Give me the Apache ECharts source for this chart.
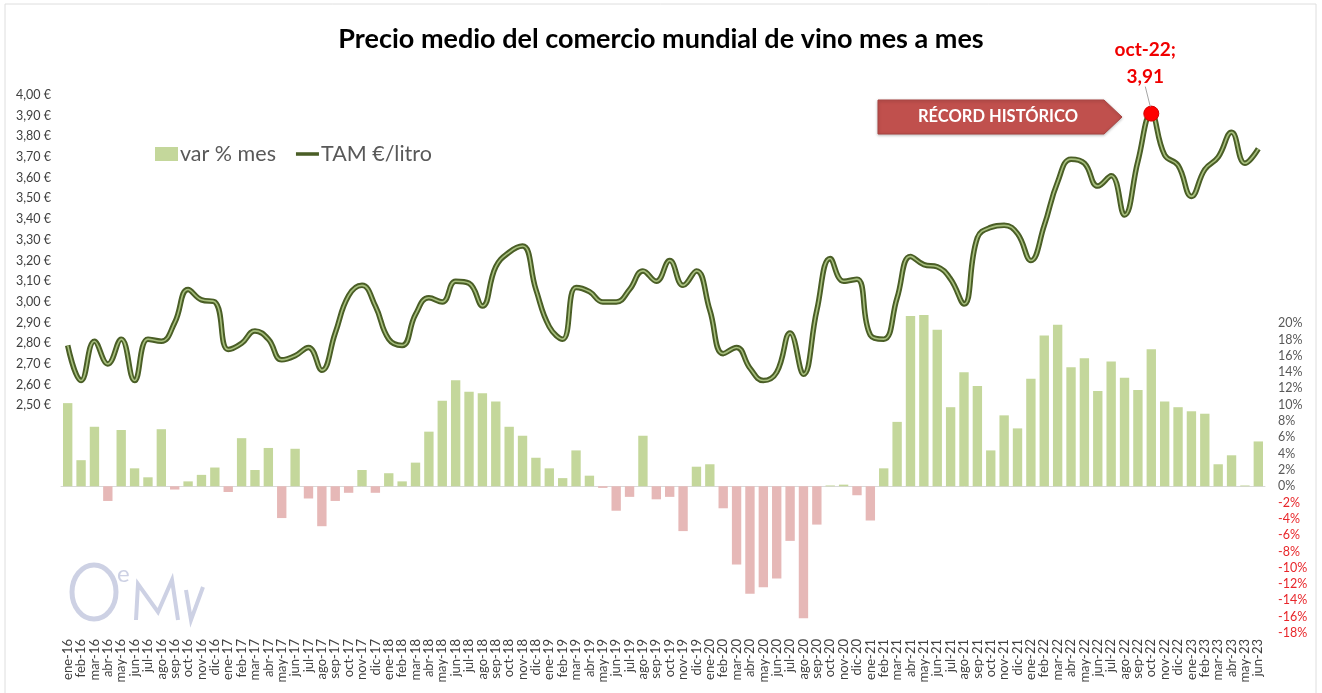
<!doctype html>
<html>
<head>
<meta charset="utf-8">
<script src="https://cdn.jsdelivr.net/npm/echarts@6/dist/echarts.min.js"></script>
<style>
	html, body { margin: 0; padding: 0; background: #fff; }
	#chart { width: 1322px; height: 693px; }
</style>
</head>
<body>
<div id="chart"></div>
<script>
	var meses = ['ene', 'feb', 'mar', 'abr', 'may', 'jun', 'jul', 'ago', 'sep', 'oct', 'nov', 'dic'];
	var anios = ['16', '17', '18', '19', '20', '21', '22', '23'];
	var categorias = [];
	for (var a = 0; a < anios.length; a++) {
		for (var m = 0; m < 12; m++) {
			if (anios[a] == '23' && m > 5) break;
			categorias.push(meses[m] + '-' + anios[a]);
		}
	}

	// TAM €/litro
	var tam = [
		2.79, 2.62, 2.81, 2.70, 2.82, 2.62, 2.82, 2.81, 2.90, 3.06, 3.01, 3.00,
		2.77, 2.80, 2.86, 2.82, 2.72, 2.74, 2.78, 2.67, 2.85, 3.03, 3.08, 2.98,
		2.82, 2.79, 2.94, 3.02, 3.00, 3.10, 3.09, 2.98, 3.17, 3.24, 3.27, 3.06,
		2.88, 2.82, 3.07, 3.05, 3.00, 3.00, 3.06, 3.15, 3.10, 3.20, 3.08, 3.15,
		2.96, 2.75, 2.78, 2.68, 2.62, 2.66, 2.85, 2.65, 2.96, 3.21, 3.10, 3.11,
		2.84, 2.82, 3.02, 3.22, 3.18, 3.17, 3.11, 2.99, 3.31, 3.36, 3.37, 3.33,
		3.20, 3.37, 3.58, 3.69, 3.67, 3.56, 3.61, 3.42, 3.68, 3.91, 3.71, 3.66,
		3.51, 3.64, 3.70, 3.82, 3.67, 3.74
	];

	// var % mes
	var varMes = [
		10.2, 3.2, 7.3, -1.8, 6.9, 2.2, 1.1, 7.0, -0.4, 0.6, 1.4, 2.3,
		-0.7, 5.9, 2.0, 4.7, -3.9, 4.6, -1.5, -4.9, -1.8, -0.8, 2.0, -0.8,
		1.6, 0.6, 2.9, 6.7, 10.5, 13.0, 11.6, 11.4, 10.4, 7.3, 6.2, 3.5,
		2.2, 1.0, 4.4, 1.3, -0.2, -3.0, -1.3, 6.2, -1.6, -1.3, -5.5, 2.4,
		2.7, -2.7, -9.6, -13.2, -12.4, -11.3, -6.7, -16.2, -4.7, 0.1, 0.2, -1.1,
		-4.2, 2.2, 7.9, 20.9, 21.0, 19.2, 9.7, 14.0, 12.3, 4.4, 8.7, 7.1,
		13.2, 18.5, 19.8, 14.6, 15.7, 11.7, 15.3, 13.3, 11.8, 16.8, 10.4, 9.7,
		9.2, 8.9, 2.7, 3.8, 0.1, 5.5
	];

	// ejes
	var ejeEuro = { min: 1.4, max: 4.0, paso: 0.1, primeraEtiqueta: 2.5 };
	var ejePct = { min: -18, max: 48, paso: 2, ultimaEtiqueta: 20 };
	var record = { mes: 'oct-22', valor: 3.91 };

	var verde = '#c4d79b', rosa = '#e6b8b7', oliva = '#4a5e26';
	var fuente = 'Lato, "Open Sans", sans-serif';
	var myChart = echarts.init(document.getElementById('chart'));

	option = {
		animation: false,
		backgroundColor: '#fff',
		textStyle: { fontFamily: fuente },
		title: {
			text: 'Precio medio del comercio mundial de vino mes a mes',
			left: 'center',
			top: 21,
			textStyle: { fontFamily: fuente, fontSize: 27, fontWeight: 'bold', color: '#000' }
		},
		legend: {
			left: 150,
			top: 138,
			itemWidth: 23,
			itemHeight: 14,
			itemGap: 20,
			textStyle: { fontFamily: fuente, fontSize: 21.5, color: '#595959', padding: [0, 0, 0, -3] },
			data: [
				{ name: 'var % mes', icon: 'rect', itemStyle: { color: verde } },
				{ name: 'TAM €/litro', icon: 'path://M0,0 L26,0 L26,4 L0,4 Z', itemStyle: { color: oliva } }
			]
		},
		grid: { left: 61, right: 57, top: 95, bottom: 60 },
		xAxis: [{
			type: 'category',
			data: categorias,
			axisTick: { show: false },
			axisLine: { lineStyle: { color: '#d9d9d9', width: 1 } },
			axisLabel: {
				interval: 0,
				rotate: 90,
				fontSize: 13,
				color: '#404040',
				margin: 6,
				fontFamily: fuente
			}
		}],
		yAxis: [{
			type: 'value',
			min: ejeEuro.min,
			max: ejeEuro.max,
			interval: ejeEuro.paso,
			splitLine: { show: false },
			axisLine: { show: false },
			axisTick: { show: false },
			axisLabel: {
				fontSize: 12.5,
				color: '#404040',
				margin: 10,
				fontFamily: fuente,
				formatter: function(value) {
					if (value < ejeEuro.primeraEtiqueta - 1e-6) return '';
					return value.toFixed(2).replace('.', ',') + ' €';
				}
			}
		}, {
			type: 'value',
			min: ejePct.min,
			max: ejePct.max,
			interval: ejePct.paso,
			splitLine: { show: false },
			axisLine: { show: false },
			axisTick: { show: false },
			axisLabel: {
				fontSize: 12.5,
				margin: 13,
				fontFamily: fuente,
				color: function(value) {
					return value < 0 ? '#e8262a' : '#595959';
				},
				formatter: function(value) {
					if (value > ejePct.ultimaEtiqueta) return '';
					return value + '%';
				}
			}
		}],
		series: [{
			name: 'var % mes',
			type: 'bar',
			yAxisIndex: 1,
			barCategoryGap: '30%',
			data: varMes,
			itemStyle: {
				color: function(params) {
					return params.value < 0 ? rosa : verde;
				}
			}
		}, {
			name: 'TAM €/litro',
			type: 'line',
			yAxisIndex: 0,
			data: tam,
			smooth: 0.45,
			symbol: 'none',
			lineStyle: { color: oliva, width: 5.5 },
			itemStyle: { color: oliva },
			z: 3
		}, {
			name: 'TAM interior',
			type: 'line',
			yAxisIndex: 0,
			data: tam,
			smooth: 0.45,
			symbol: 'none',
			lineStyle: { color: '#a8c07e', width: 1.6 },
			z: 4,
			markPoint: {
				symbol: 'circle',
				symbolSize: 15,
				itemStyle: { color: '#ff0000', borderColor: '#d00000', borderWidth: 1 },
				label: {
					show: true,
					position: 'top',
					distance: 15,
					offset: [-6, 0],
					formatter: record.mes + ';\n' + record.valor.toFixed(2).replace('.', ','),
					color: '#f00000',
					fontFamily: fuente,
					fontWeight: 'bold',
					fontSize: 19,
					lineHeight: 27
				},
				data: [{ coord: [record.mes, record.valor] }]
			}
		}]
	};
	myChart.setOption(option);

	// línea guía de la etiqueta, cartel y logo
	var p = myChart.convertToPixel({ xAxisIndex: 0, yAxisIndex: 0 }, [record.mes, record.valor]);
	myChart.setOption({
		graphic: [{
			type: 'rect',
			shape: { x: 5, y: 4, width: 1311, height: 700 },
			style: { fill: 'none', stroke: '#dedede', lineWidth: 1 },
			silent: true,
			z: -10
		}, {
			type: 'line',
			shape: { x1: p[0] - 6, y1: p[1] - 27, x2: p[0] - 1, y2: p[1] - 7 },
			style: { stroke: '#a6a6a6', lineWidth: 1 },
			z: 10
		}, {
			type: 'polygon',
			shape: { points: [[878, 100], [1104, 100], [1122, 117], [1104, 134], [878, 134]] },
			style: { fill: '#c0504d', stroke: '#a84442', lineWidth: 1, shadowBlur: 3, shadowColor: 'rgba(0,0,0,0.25)', shadowOffsetY: 1 },
			z: 10
		}, {
			type: 'text',
			x: 998,
			y: 117,
			style: {
				text: 'RÉCORD HISTÓRICO',
				fill: '#fff',
				font: 'bold 16.5px ' + fuente,
				align: 'center',
				verticalAlign: 'middle'
			},
			z: 11
		}, {
			type: 'ellipse',
			shape: { cx: 94, cy: 592, rx: 22, ry: 27 },
			style: { fill: 'none', stroke: '#cdd1e4', lineWidth: 5 },
			z: -5
		}, {
			type: 'text',
			x: 117,
			y: 562,
			style: { text: 'e', fill: '#cdd1e4', font: '24px ' + fuente },
			z: -5
		}, {
			type: 'polyline',
			shape: { points: [[136, 620], [138, 584], [158, 612], [172, 580], [178, 620]] },
			style: { fill: 'none', stroke: '#cdd1e4', lineWidth: 4 },
			z: -5
		}, {
			type: 'polyline',
			shape: { points: [[186, 590], [191, 620], [203, 587]] },
			style: { fill: 'none', stroke: '#cdd1e4', lineWidth: 4 },
			z: -5
		}]
	});
</script>
</body>
</html>
